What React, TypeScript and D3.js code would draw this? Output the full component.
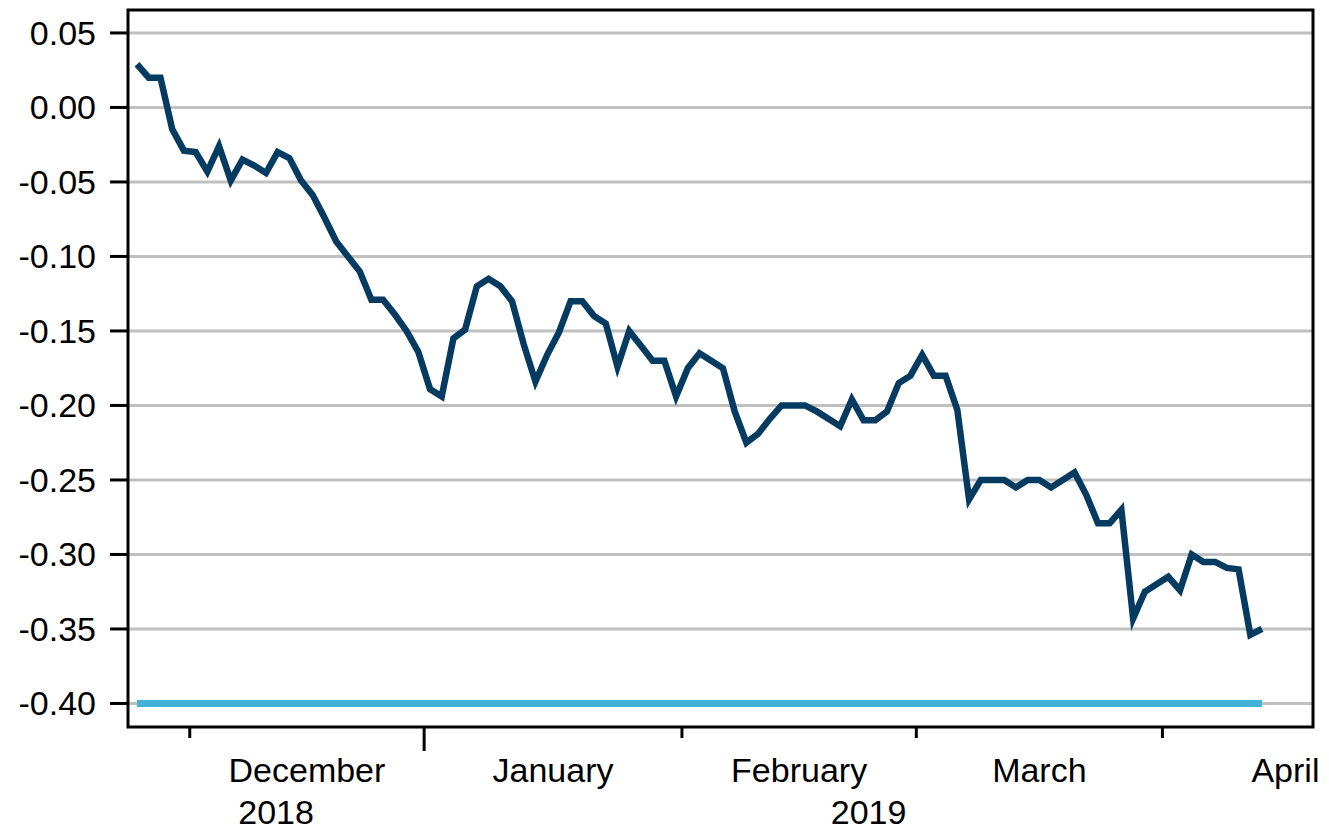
import { useEffect, useRef } from 'react';
import * as d3 from 'd3';

// daily values, late November 2018 to mid April 2019 (trading days)
const values = [
  0.029, 0.02, 0.02, -0.0145, -0.029, -0.03, -0.043, -0.026, -0.049, -0.035,
  -0.039, -0.044, -0.03, -0.034, -0.049, -0.059, -0.074, -0.09, -0.1, -0.11,
  -0.129, -0.129, -0.139, -0.15, -0.164, -0.189, -0.194, -0.155, -0.149, -0.12,
  -0.115, -0.12, -0.13, -0.159, -0.184, -0.166, -0.151, -0.13, -0.13, -0.14,
  -0.145, -0.174, -0.15, -0.16, -0.17, -0.17, -0.194, -0.175, -0.165, -0.17,
  -0.175, -0.204, -0.225, -0.219, -0.209, -0.2, -0.2, -0.2, -0.204, -0.209,
  -0.214, -0.196, -0.21, -0.21, -0.204, -0.185, -0.18, -0.166, -0.18, -0.18,
  -0.203, -0.263, -0.25, -0.25, -0.25, -0.255, -0.25, -0.25, -0.255, -0.25,
  -0.245, -0.26, -0.279, -0.279, -0.27, -0.343, -0.325, -0.32, -0.315, -0.324,
  -0.3, -0.305, -0.305, -0.309, -0.31, -0.354, -0.35,
];

const baseline = -0.4;

const yTicks = [0.05, 0, -0.05, -0.1, -0.15, -0.2, -0.25, -0.3, -0.35, -0.4];

// trading days per month; the series starts with 5 days of November
const novemberDays = 5;
const monthNames = ['December', 'January', 'February', 'March', 'April'];
const monthDays = [20, 22, 20, 21, 21];
const years = [
  { label: '2018', months: 1 },
  { label: '2019', months: 4 },
];

export default function App() {
  const svgRef = useRef<SVGSVGElement>(null);
  const width = 1329;
  const height = 831;

  useEffect(() => {
    if (!svgRef.current) return;
    const svg = d3.select(svgRef.current);
    svg.selectAll('*').remove();

    const left = 128;
    const right = 1313;
    const top = 10;
    const bottom = 727;
    const font = '"Liberation Sans", Arial, sans-serif';
    const fontSize = '34px';

    const x = d3
      .scaleLinear()
      .domain([-0.77, 100.35])
      .range([left, right]);

    const y = d3
      .scaleLinear()
      .domain([-0.4158, 0.0654])
      .range([bottom, top]);

    // gridlines
    svg.append('g')
      .selectAll('line')
      .data(yTicks)
      .join('line')
      .attr('x1', left)
      .attr('x2', right)
      .attr('y1', (d) => y(d))
      .attr('y2', (d) => y(d))
      .attr('stroke', '#c0c0c0')
      .attr('stroke-width', 3);

    // baseline series
    svg.append('line')
      .attr('x1', x(0))
      .attr('x2', x(values.length - 1))
      .attr('y1', y(baseline))
      .attr('y2', y(baseline))
      .attr('stroke', '#42b3d6')
      .attr('stroke-width', 7);

    // main series
    const line = d3
      .line<number>()
      .x((_, i) => x(i))
      .y((d) => y(d));

    svg.append('path')
      .datum(values)
      .attr('d', line)
      .attr('fill', 'none')
      .attr('stroke', '#053b61')
      .attr('stroke-width', 6.5)
      .attr('stroke-linejoin', 'miter');

    // frame
    svg.append('rect')
      .attr('x', left)
      .attr('y', top)
      .attr('width', right - left)
      .attr('height', bottom - top)
      .attr('fill', 'none')
      .attr('stroke', '#000')
      .attr('stroke-width', 3);

    // y axis ticks and labels
    const yAxis = svg.append('g');
    yAxis.selectAll('line')
      .data(yTicks)
      .join('line')
      .attr('x1', 110)
      .attr('x2', left)
      .attr('y1', (d) => y(d))
      .attr('y2', (d) => y(d))
      .attr('stroke', '#000')
      .attr('stroke-width', 3);

    yAxis.selectAll('text')
      .data(yTicks)
      .join('text')
      .attr('x', 96)
      .attr('y', (d) => y(d))
      .attr('dy', '0.35em')
      .attr('text-anchor', 'end')
      .attr('font-family', font)
      .attr('font-size', fontSize)
      .attr('fill', '#000')
      .text((d) => d3.format('.2f')(d).replace('−', '-'));

    // month boundaries
    const bounds = [novemberDays - 0.5];
    monthDays.forEach((n) => bounds.push(bounds[bounds.length - 1] + n));
    const yearStarts = [0];
    years.forEach((yr) => yearStarts.push(yearStarts[yearStarts.length - 1] + yr.months));

    const tickBounds = bounds.slice(0, monthNames.length);
    svg.append('g')
      .selectAll('line')
      .data(tickBounds)
      .join('line')
      .attr('x1', (d) => x(d))
      .attr('x2', (d) => x(d))
      .attr('y1', bottom)
      .attr('y2', (_, i) => (yearStarts.includes(i) && i > 0 ? bottom + 24 : bottom + 11))
      .attr('stroke', '#000')
      .attr('stroke-width', 3);

    svg.append('g')
      .selectAll('text')
      .data(monthNames)
      .join('text')
      .attr('x', (_, i) => x((bounds[i] + bounds[i + 1]) / 2))
      .attr('y', 782)
      .attr('text-anchor', 'middle')
      .attr('font-family', font)
      .attr('font-size', fontSize)
      .attr('fill', '#000')
      .text((d) => d);

    // year labels centred on the visible part of each year
    svg.append('g')
      .selectAll('text')
      .data(years)
      .join('text')
      .attr('x', (_, i) => {
        const a = i === 0 ? left : x(bounds[yearStarts[i]]);
        const b = i === years.length - 1 ? right : x(bounds[yearStarts[i + 1]]);
        return (a + b) / 2;
      })
      .attr('y', 824)
      .attr('text-anchor', 'middle')
      .attr('font-family', font)
      .attr('font-size', fontSize)
      .attr('fill', '#000')
      .text((d) => d.label);
  }, []);

  return (
    <svg
      ref={svgRef}
      width={width}
      height={height}
      style={{ position: 'absolute', left: 0, top: 0, background: '#fff' }}
    />
  );
}
